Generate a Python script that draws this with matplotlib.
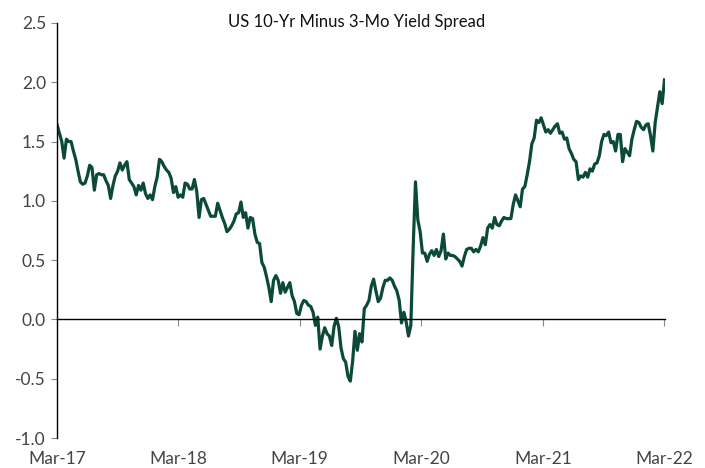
import numpy as np
import pandas as pd
import matplotlib
matplotlib.use("Agg")
import matplotlib.pyplot as plt
import matplotlib.dates as mdates

# weekly readings of the 10y - 3m spread, starting 1 Mar 2017
start_date = "2017-03-01"
spread = [
    1.64, 1.57, 1.50, 1.36, 1.52, 1.50, 1.50, 1.42, 1.35, 1.25,
    1.16, 1.14, 1.15, 1.21, 1.30, 1.28, 1.09, 1.22, 1.23, 1.22,
    1.22, 1.17, 1.13, 1.02, 1.13, 1.21, 1.25, 1.32, 1.26, 1.30,
    1.33, 1.18, 1.15, 1.12, 1.05, 1.13, 1.09, 1.15, 1.06, 1.02,
    1.05, 1.01, 1.12, 1.20, 1.35, 1.33, 1.29, 1.26, 1.24, 1.19,
    1.07, 1.12, 1.03, 1.05, 1.03, 1.15, 1.14, 1.10, 1.10, 1.18,
    1.08, 0.86, 1.01, 1.02, 0.97, 0.92, 0.87, 0.87, 0.87, 0.98,
    0.92, 0.86, 0.81, 0.74, 0.76, 0.79, 0.83, 0.89, 0.90, 0.99,
    0.86, 0.90, 0.77, 0.86, 0.85, 0.72, 0.65, 0.64, 0.48, 0.44,
    0.36, 0.27, 0.15, 0.33, 0.37, 0.33, 0.22, 0.31, 0.23, 0.27,
    0.31, 0.20, 0.15, 0.05, 0.04, 0.12, 0.16, 0.15, 0.12, 0.11,
    0.06, -0.05, 0.02, -0.25, -0.14, -0.07, -0.12, -0.14, -0.22, -0.06,
    0.01, -0.06, -0.24, -0.33, -0.36, -0.48, -0.52, -0.35, -0.10, -0.26,
    -0.12, -0.19, 0.09, 0.12, 0.16, 0.28, 0.34, 0.24, 0.15, 0.18,
    0.27, 0.33, 0.33, 0.35, 0.33, 0.28, 0.24, 0.16, -0.03, 0.06,
    -0.02, -0.14, -0.05, 0.60, 1.16, 0.84, 0.74, 0.56, 0.56, 0.49,
    0.55, 0.58, 0.54, 0.59, 0.53, 0.58, 0.72, 0.51, 0.56, 0.54,
    0.54, 0.53, 0.51, 0.49, 0.45, 0.53, 0.59, 0.60, 0.60, 0.57,
    0.59, 0.57, 0.62, 0.69, 0.63, 0.77, 0.80, 0.77, 0.86, 0.80,
    0.79, 0.83, 0.86, 0.85, 0.85, 0.85, 0.97, 1.05, 1.00, 0.95,
    1.10, 1.12, 1.22, 1.33, 1.48, 1.53, 1.68, 1.66, 1.70, 1.64,
    1.58, 1.60, 1.57, 1.60, 1.63, 1.65, 1.57, 1.58, 1.52, 1.53,
    1.44, 1.40, 1.35, 1.33, 1.18, 1.21, 1.20, 1.24, 1.20, 1.27,
    1.25, 1.31, 1.32, 1.38, 1.50, 1.56, 1.55, 1.58, 1.49, 1.50,
    1.42, 1.56, 1.56, 1.33, 1.44, 1.41, 1.38, 1.52, 1.60, 1.67,
    1.66, 1.62, 1.60, 1.64, 1.65, 1.55, 1.42, 1.66, 1.79, 1.92,
    1.82, 2.02,
]
tick_dates = ["2017-03-01", "2018-03-01", "2019-03-01",
              "2020-03-01", "2021-03-01", "2022-03-01"]
tick_labels = ["Mar-17", "Mar-18", "Mar-19", "Mar-20", "Mar-21", "Mar-22"]
y_ticks = [-1.0, -0.5, 0.0, 0.5, 1.0, 1.5, 2.0, 2.5]

dates = pd.date_range(start_date, periods=len(spread), freq="7D")
ticks = pd.to_datetime(tick_dates)

plt.rcParams["font.family"] = ["Lato", "DejaVu Sans"]

fig = plt.figure(figsize=(7.05, 4.68), dpi=100)
ax = fig.add_axes([0.081, 0.064, 0.862, 0.887])

ax.plot(dates, spread, color="#0b4a38", linewidth=2.3,
        solid_joinstyle="round")

ax.set_xlim(pd.Timestamp("2017-03-01"), pd.Timestamp("2022-03-03"))
ax.set_ylim(-1.0, 2.5)
ax.set_yticks(y_ticks)
ax.set_yticklabels([f"{v:.1f}" for v in y_ticks])

for side in ["top", "right"]:
    ax.spines[side].set_visible(False)
ax.spines["bottom"].set_position(("data", 0))
ax.spines["bottom"].set_linewidth(1.0)
ax.spines["left"].set_linewidth(1.0)

ax.set_xticks(ticks)
ax.tick_params(axis="x", direction="out", length=5, width=0.8,
               color="#888888", labelbottom=False)
ax.tick_params(axis="y", direction="out", length=4, width=0.8,
               color="#888888", labelsize=12.5, labelcolor="#444444", pad=4)

# date labels sit under the plot, not on the zero line
sec = ax.secondary_xaxis("bottom")
sec.set_xticks(ticks)
sec.set_xticklabels(tick_labels)
sec.spines["bottom"].set_visible(False)
sec.tick_params(length=0, labelsize=12.5, labelcolor="#444444", pad=9)

fig.text(0.506, 0.953, "US 10-Yr Minus 3-Mo Yield Spread",
         ha="center", va="center", fontsize=12, color="#111111")

fig.savefig("out.png", dpi=100)
